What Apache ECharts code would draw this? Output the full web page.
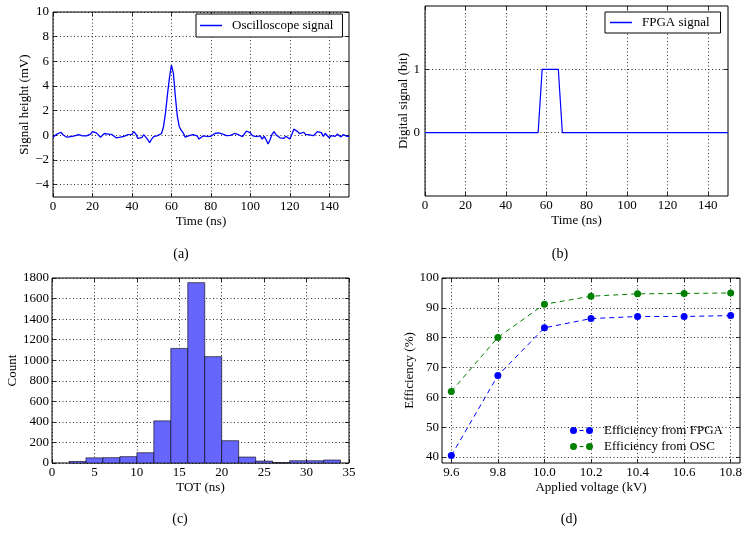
<!DOCTYPE html>
<html>
<head>
<meta charset="utf-8">
<script src="https://cdn.jsdelivr.net/npm/echarts@6/dist/echarts.min.js"></script>
<style>
  html, body { margin: 0; padding: 0; background: #fff; }
  #chart { width: 748px; height: 535px; }
</style>
</head>
<body>
<div id="chart"></div>
<script>
// ---- (a) oscilloscope trace, every 1 ns
const oscTime = [
  0, 1, 2, 3, 4, 5, 6, 7, 8, 9,
  10, 11, 12, 13, 14, 15, 16, 17, 18, 19,
  20, 21, 22, 23, 24, 25, 26, 27, 28, 29,
  30, 31, 32, 33, 34, 35, 36, 37, 38, 39,
  40, 41, 42, 43, 44, 45, 46, 47, 48, 49,
  50, 51, 52, 53, 54, 55, 56, 57, 58, 59,
  60, 61, 62, 63, 64, 65, 66, 67, 68, 69,
  70, 71, 72, 73, 74, 75, 76, 77, 78, 79,
  80, 81, 82, 83, 84, 85, 86, 87, 88, 89,
  90, 91, 92, 93, 94, 95, 96, 97, 98, 99,
  100, 101, 102, 103, 104, 105, 106, 107, 108, 109,
  110, 111, 112, 113, 114, 115, 116, 117, 118, 119,
  120, 121, 122, 123, 124, 125, 126, 127, 128, 129,
  130, 131, 132, 133, 134, 135, 136, 137, 138, 139,
  140, 141, 142, 143, 144, 145, 146, 147, 148, 149,
  150
];
const oscSignal = [
  -0.15, -0.05, 0.1, 0.15, 0.25, 0.05, -0.05, -0.15, -0.1, -0.1,
  -0.1, -0.05, 0.0, 0.05, 0.12, -0.05, -0.05, -0.05, 0.05, 0.1,
  0.3, 0.45, 0.2, 0.1, -0.15, 0.0, 0.15, 0.1, 0.1, -0.05,
  0.05, 0.15, -0.2, -0.2, -0.15, -0.1, -0.08, 0.0, 0.05, 0.05,
  0.08, 0.3, 0.1, -0.25, -0.2, -0.18, 0.05, -0.1, -0.35, -0.6,
  -0.3, -0.1, -0.05, -0.02, 0.0, 0.15, 0.7, 1.8, 3.3, 4.65,
  5.7, 5.05, 3.15, 1.55, 0.7, 0.4, 0.2, -0.15, -0.08, -0.03,
  0.0, 0.05, -0.02, -0.05, -0.3, -0.18, -0.05, 0.0, -0.08, 0.05,
  -0.08, 0.05, 0.15, 0.18, 0.2, 0.1, 0.1, 0.0, -0.03, 0.1,
  0.0, 0.05, 0.15, 0.2, 0.05, -0.03, -0.1, -0.2, 0.35, 0.35,
  0.2, -0.03, 0.0, -0.1, -0.15, -0.05, -0.3, -0.08, -0.35, -0.7,
  -0.35, 0.08, 0.3, 0.05, -0.1, -0.2, -0.13, -0.25, -0.08, -0.2,
  -0.3, 0.05, 0.5, 0.45, 0.3, 0.13, -0.03, 0.25, 0.08, -0.08,
  0.03, 0.1, -0.03, 0.13, 0.3, 0.25, 0.22, -0.08, 0.15, -0.03,
  -0.2, -0.03, 0.05, -0.08, 0.1, -0.03, -0.13, 0.05, -0.03, -0.08,
  -0.08
];

// ---- (b) FPGA digital signal
const fpgaTime = [0, 56, 58, 66, 68, 150];
const fpgaBit = [0, 0, 1, 1, 0, 0];

// ---- (c) TOT histogram (bin edges in ns, counts per bin)
const totEdges = [2, 4, 6, 8, 10, 12, 14, 16, 18, 20, 22, 24, 26, 28, 30, 32, 34];
const totCounts = [15, 50, 52, 62, 100, 410, 1115, 1755, 1035, 217, 58, 19, 3, 22, 22, 29];

// ---- (d) efficiency vs voltage
const voltages = [9.6, 9.8, 10.0, 10.2, 10.4, 10.6, 10.8];
const effFpga = [40.5, 67.3, 83.3, 86.4, 87.1, 87.1, 87.4];
const effOsc = [62.0, 80.1, 91.2, 93.9, 94.7, 94.8, 95.0];

// ---- tick labels
const timeTicks = [0, 20, 40, 60, 80, 100, 120, 140];
const mvTicks = [-4, -2, 0, 2, 4, 6, 8, 10];
const bitTicks = [0, 1];
const totTicks = [0, 5, 10, 15, 20, 25, 30, 35];
const countTicks = [0, 200, 400, 600, 800, 1000, 1200, 1400, 1600, 1800];
const voltTicks = [9.6, 9.8, 10.0, 10.2, 10.4, 10.6, 10.8];
const effTicks = [40, 50, 60, 70, 80, 90, 100];

const FONT = 'Liberation Serif';
const txt = { fontFamily: FONT, fontSize: 13, color: '#000' };
const gridLine = { show: true, lineStyle: { color: '#000', width: 0.8, type: [1, 2.5] } };
const minus = v => String(v).replace('-', '\u2212');

const grids = [
  { left: 53, top: 12, width: 296, height: 185 },
  { left: 425, top: 6, width: 303, height: 190 },
  { left: 52, top: 278, width: 297, height: 185 },
  { left: 442, top: 278, width: 298, height: 185 }
].map(g => Object.assign(g, { show: true, borderColor: '#000', borderWidth: 1, outerBoundsMode: 'none' }));

// main axis carries labels and grid lines, mirror only draws the inward ticks
function axes(pos, gi, o) {
  const tick = { show: true, inside: true, length: 4, lineStyle: { color: '#000', width: 0.8 }, customValues: o.ticks };
  const main = {
    type: 'value', gridIndex: gi, position: pos, min: o.min, max: o.max,
    axisLine: { show: false, onZero: false },
    axisTick: tick,
    axisLabel: Object.assign({ customValues: o.ticks, margin: o.margin, formatter: o.fmt || minus }, txt),
    splitLine: gridLine,
    name: o.name, nameLocation: 'middle', nameGap: o.gap,
    nameTextStyle: txt
  };
  const mirror = {
    type: 'value', gridIndex: gi, position: pos === 'bottom' ? 'top' : 'right',
    min: o.min, max: o.max,
    axisLine: { show: false, onZero: false }, axisTick: tick,
    axisLabel: { show: false }, splitLine: { show: false }
  };
  return [main, mirror];
}

const xAxis = [].concat(
  axes('bottom', 0, { min: 0, max: 150, ticks: timeTicks, name: 'Time (ns)', gap: 18, margin: 3 }),
  axes('bottom', 1, { min: 0, max: 150, ticks: timeTicks, name: 'Time (ns)', gap: 18, margin: 3 }),
  axes('bottom', 2, { min: 0, max: 35, ticks: totTicks, name: 'TOT (ns)', gap: 18, margin: 3 }),
  axes('bottom', 3, { min: 9.56, max: 10.84, ticks: voltTicks, name: 'Applied voltage (kV)', gap: 18, margin: 3,
    fmt: v => v.toFixed(1) })
);
const yAxis = [].concat(
  axes('left', 0, { min: -5, max: 10, ticks: mvTicks, name: 'Signal height (mV)', gap: 19, margin: 4 }),
  axes('left', 1, { min: -1, max: 2, ticks: bitTicks, name: 'Digital signal (bit)', gap: 15, margin: 5 }),
  axes('left', 2, { min: 0, max: 1800, ticks: countTicks, name: 'Count', gap: 33, margin: 3 }),
  axes('left', 3, { min: 38, max: 100, ticks: effTicks, name: 'Efficiency (%)', gap: 26, margin: 3 })
);

const pair = (xs, ys) => xs.map((x, i) => [x, ys[i]]);
const histData = totCounts.map((c, i) => [totEdges[i], totEdges[i + 1], c]);

const markerIcon = 'path://M0,3.5A3.5,3.5 0 1 1 7,3.5A3.5,3.5 0 1 1 0,3.5ZM9.5,3h4v1h-4ZM16,3.5A3.5,3.5 0 1 1 23,3.5A3.5,3.5 0 1 1 16,3.5Z';

const legendBase = {
  orient: 'vertical', itemWidth: 22, itemHeight: 1.5, icon: 'rect',
  itemStyle: { borderWidth: 0 },
  textStyle: Object.assign({ padding: [0, 0, 0, 5] }, txt),
  borderColor: '#000', borderWidth: 1, borderRadius: 0, backgroundColor: '#fff'
};

const option = {
  animation: false,
  backgroundColor: '#fff',
  grid: grids,
  xAxis: xAxis,
  yAxis: yAxis,
  title: [
    { text: '(a)', left: 181, top: 247 },
    { text: '(b)', left: 560, top: 247 },
    { text: '(c)', left: 180, top: 512 },
    { text: '(d)', left: 569, top: 512 }
  ].map(t => Object.assign(t, { textAlign: 'center', padding: 0,
    textStyle: { fontFamily: FONT, fontSize: 14, fontWeight: 'normal', color: '#000' } })),
  legend: [
    Object.assign({}, legendBase, { data: ['Oscilloscope signal'], left: 196, top: 14, padding: [5, 9, 5, 4] }),
    Object.assign({}, legendBase, { data: ['FPGA signal'], left: 605, top: 12, padding: [4, 11, 4, 5] }),
    Object.assign({}, legendBase, {
      data: ['Efficiency from FPGA', 'Efficiency from OSC'], left: 570, top: 424,
      icon: markerIcon, itemWidth: 23, itemHeight: 7, itemGap: 3, borderWidth: 0,
      backgroundColor: 'transparent', padding: 0,
      textStyle: Object.assign({ padding: [0, 0, 0, 6] }, txt)
    })
  ],
  series: [
    {
      name: 'Oscilloscope signal', type: 'line', xAxisIndex: 0, yAxisIndex: 0,
      data: pair(oscTime, oscSignal), showSymbol: false, symbol: 'none',
      lineStyle: { color: '#0000ff', width: 1.3 }, itemStyle: { color: '#0000ff' }
    },
    {
      name: 'FPGA signal', type: 'line', xAxisIndex: 2, yAxisIndex: 2,
      data: pair(fpgaTime, fpgaBit), showSymbol: false, symbol: 'none',
      lineStyle: { color: '#0000ff', width: 1.2 }, itemStyle: { color: '#0000ff' }
    },
    {
      name: 'TOT', type: 'custom', xAxisIndex: 4, yAxisIndex: 4,
      data: histData, encode: { x: [0, 1], y: 2 },
      renderItem: (params, api) => {
        const p0 = api.coord([api.value(0), api.value(2)]);
        const p1 = api.coord([api.value(1), 0]);
        return {
          type: 'rect',
          shape: { x: p0[0], y: p0[1], width: p1[0] - p0[0], height: p1[1] - p0[1] },
          style: { fill: '#6666ff', stroke: 'rgba(0,0,0,0.6)', lineWidth: 1 }
        };
      }
    },
    {
      name: 'Efficiency from FPGA', type: 'line', xAxisIndex: 6, yAxisIndex: 6,
      data: pair(voltages, effFpga), symbol: 'circle', symbolSize: 7,
      lineStyle: { color: '#0000ff', width: 1, type: [5, 4] },
      itemStyle: { color: '#0000ff' }
    },
    {
      name: 'Efficiency from OSC', type: 'line', xAxisIndex: 6, yAxisIndex: 6,
      data: pair(voltages, effOsc), symbol: 'circle', symbolSize: 7,
      lineStyle: { color: '#008000', width: 1, type: [5, 4] },
      itemStyle: { color: '#008000' }
    }
  ]
};

const chart = echarts.init(document.getElementById('chart'));
chart.setOption(option);
</script>
</body>
</html>
